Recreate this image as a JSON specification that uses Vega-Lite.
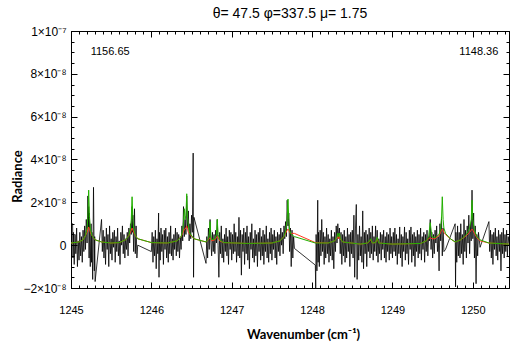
{
  "$schema": "https://vega.github.io/schema/vega-lite/v6.json",
  "width": 438,
  "height": 257,
  "autosize": "none",
  "padding": {"left": 71, "top": 31, "right": 1, "bottom": 56},
  "background": "white",
  "title": {"text": "θ= 47.5 φ=337.5 μ= 1.75", "font": "Liberation Sans", "fontSize": 14, "fontWeight": "normal", "color": "black", "anchor": "middle", "offset": 4},
  "config": {
    "view": {"stroke": "black", "strokeWidth": 1},
    "axis": {"grid": false, "domainColor": "black", "tickColor": "black", "labelColor": "black", "labelFont": "Liberation Sans", "labelFontSize": 11, "titleColor": "black", "domainWidth": 1, "tickWidth": 1}
  },
  "datasets": {
    "obs": [
      {"wn":1245.00,"rad":0.3e-8},{"wn":1245.005,"rad":1.0e-8},{"wn":1245.02,"rad":1.0e-8},{"wn":1245.025,"rad":-0.6e-8},{"wn":1245.03,"rad":0.6e-8},{"wn":1245.04,"rad":-0.9e-8},{"wn":1245.05,"rad":0.5e-8},{"wn":1245.06,"rad":-0.4e-8},{"wn":1245.07,"rad":0.8e-8},{"wn":1245.08,"rad":-1.0e-8},{"wn":1245.09,"rad":0.2e-8},
      {"wn":1245.10,"rad":-0.7e-8},{"wn":1245.11,"rad":0.6e-8},{"wn":1245.12,"rad":-0.5e-8},{"wn":1245.13,"rad":0.4e-8},{"wn":1245.14,"rad":-0.8e-8},{"wn":1245.15,"rad":0.7e-8},{"wn":1245.16,"rad":-0.3e-8},{"wn":1245.17,"rad":0.9e-8},{"wn":1245.18,"rad":-0.2e-8},{"wn":1245.19,"rad":1.2e-8},
      {"wn":1245.20,"rad":0.1e-8},{"wn":1245.21,"rad":2.3e-8},{"wn":1245.215,"rad":0.8e-8},{"wn":1245.22,"rad":1.8e-8},{"wn":1245.225,"rad":-0.6e-8},{"wn":1245.23,"rad":1.5e-8},{"wn":1245.24,"rad":-1.0e-8},{"wn":1245.25,"rad":1.0e-8},{"wn":1245.255,"rad":-0.8e-8},{"wn":1245.26,"rad":0.6e-8},{"wn":1245.27,"rad":-1.6e-8},{"wn":1245.28,"rad":2.7e-8},{"wn":1245.29,"rad":-1.2e-8},{"wn":1245.295,"rad":0.4e-8},{"wn":1245.30,"rad":-1.7e-8},
      {"wn":1245.38,"rad":1.2e-8},{"wn":1245.39,"rad":-0.3e-8},{"wn":1245.40,"rad":0.7e-8},{"wn":1245.41,"rad":-0.6e-8},{"wn":1245.42,"rad":0.4e-8},{"wn":1245.43,"rad":-0.9e-8},{"wn":1245.44,"rad":0.8e-8},{"wn":1245.45,"rad":-0.2e-8},{"wn":1245.46,"rad":0.5e-8},{"wn":1245.47,"rad":-1.0e-8},{"wn":1245.48,"rad":0.9e-8},{"wn":1245.49,"rad":-0.4e-8},
      {"wn":1245.50,"rad":0.3e-8},{"wn":1245.51,"rad":-0.7e-8},{"wn":1245.52,"rad":0.6e-8},{"wn":1245.53,"rad":-0.1e-8},{"wn":1245.54,"rad":0.7e-8},{"wn":1245.55,"rad":-0.8e-8},{"wn":1245.56,"rad":0.4e-8},{"wn":1245.57,"rad":-0.3e-8},{"wn":1245.58,"rad":0.8e-8},{"wn":1245.59,"rad":-0.5e-8},
      {"wn":1245.60,"rad":0.2e-8},{"wn":1245.61,"rad":-0.9e-8},{"wn":1245.62,"rad":0.6e-8},{"wn":1245.63,"rad":0.0},{"wn":1245.64,"rad":0.9e-8},{"wn":1245.65,"rad":-0.4e-8},{"wn":1245.66,"rad":0.5e-8},{"wn":1245.67,"rad":-0.6e-8},{"wn":1245.68,"rad":0.3e-8},{"wn":1245.69,"rad":-0.2e-8},
      {"wn":1245.70,"rad":0.6e-8},{"wn":1245.71,"rad":-0.5e-8},{"wn":1245.72,"rad":0.8e-8},{"wn":1245.73,"rad":0.1e-8},{"wn":1245.74,"rad":1.0e-8},{"wn":1245.75,"rad":0.5e-8},{"wn":1245.76,"rad":1.8e-8},{"wn":1245.765,"rad":0.6e-8},{"wn":1245.77,"rad":1.4e-8},{"wn":1245.78,"rad":-0.3e-8},{"wn":1245.79,"rad":1.7e-8},
      {"wn":1245.80,"rad":-0.4e-8},{"wn":1245.81,"rad":0.9e-8},{"wn":1245.82,"rad":-0.6e-8},{"wn":1245.83,"rad":0.0},
      {"wn":1246.00,"rad":-0.3e-8},{"wn":1246.01,"rad":0.6e-8},{"wn":1246.02,"rad":-0.8e-8},{"wn":1246.03,"rad":0.4e-8},{"wn":1246.04,"rad":-0.5e-8},{"wn":1246.05,"rad":0.7e-8},{"wn":1246.06,"rad":-1.1e-8},{"wn":1246.07,"rad":0.3e-8},{"wn":1246.08,"rad":-0.4e-8},{"wn":1246.09,"rad":1.5e-8},{"wn":1246.095,"rad":-1.5e-8},
      {"wn":1246.10,"rad":0.6e-8},{"wn":1246.11,"rad":-0.7e-8},{"wn":1246.12,"rad":0.8e-8},{"wn":1246.13,"rad":-0.3e-8},{"wn":1246.14,"rad":0.5e-8},{"wn":1246.15,"rad":-0.9e-8},{"wn":1246.16,"rad":0.7e-8},{"wn":1246.17,"rad":-0.2e-8},{"wn":1246.18,"rad":0.8e-8},{"wn":1246.19,"rad":-0.6e-8},
      {"wn":1246.20,"rad":0.4e-8},{"wn":1246.21,"rad":-0.8e-8},{"wn":1246.22,"rad":0.6e-8},{"wn":1246.23,"rad":-0.4e-8},{"wn":1246.24,"rad":0.9e-8},{"wn":1246.25,"rad":-0.5e-8},{"wn":1246.26,"rad":0.3e-8},{"wn":1246.27,"rad":-0.7e-8},{"wn":1246.28,"rad":0.5e-8},{"wn":1246.29,"rad":-0.2e-8},
      {"wn":1246.30,"rad":0.8e-8},{"wn":1246.31,"rad":-0.5e-8},{"wn":1246.32,"rad":0.6e-8},{"wn":1246.33,"rad":-0.3e-8},{"wn":1246.34,"rad":0.5e-8},{"wn":1246.35,"rad":-0.6e-8},{"wn":1246.36,"rad":0.4e-8},{"wn":1246.37,"rad":-0.2e-8},{"wn":1246.38,"rad":0.9e-8},{"wn":1246.39,"rad":0.2e-8},
      {"wn":1246.40,"rad":1.8e-8},{"wn":1246.41,"rad":0.4e-8},{"wn":1246.42,"rad":1.2e-8},{"wn":1246.43,"rad":0.5e-8},{"wn":1246.44,"rad":2.3e-8},{"wn":1246.45,"rad":0.8e-8},{"wn":1246.46,"rad":1.6e-8},{"wn":1246.47,"rad":0.2e-8},{"wn":1246.48,"rad":1.0e-8},{"wn":1246.49,"rad":0.3e-8},
      {"wn":1246.50,"rad":1.4e-8},{"wn":1246.51,"rad":0.6e-8},{"wn":1246.52,"rad":4.3e-8},{"wn":1246.525,"rad":-1.5e-8},{"wn":1246.53,"rad":1.3e-8},
      {"wn":1246.68,"rad":-0.85e-8},{"wn":1246.69,"rad":0.4e-8},{"wn":1246.70,"rad":-0.6e-8},{"wn":1246.71,"rad":0.8e-8},{"wn":1246.72,"rad":-0.2e-8},{"wn":1246.73,"rad":1.2e-8},{"wn":1246.74,"rad":0.2e-8},{"wn":1246.75,"rad":-0.5e-8},{"wn":1246.76,"rad":0.6e-8},{"wn":1246.77,"rad":-0.3e-8},{"wn":1246.78,"rad":0.5e-8},{"wn":1246.79,"rad":-0.4e-8},
      {"wn":1246.80,"rad":0.7e-8},{"wn":1246.81,"rad":0.1e-8},{"wn":1246.82,"rad":1.2e-8},{"wn":1246.83,"rad":0.0},{"wn":1246.84,"rad":-1.5e-8},{"wn":1246.85,"rad":0.6e-8},{"wn":1246.86,"rad":-0.4e-8},{"wn":1246.87,"rad":0.9e-8},{"wn":1246.88,"rad":-0.6e-8},{"wn":1246.89,"rad":0.3e-8},
      {"wn":1246.90,"rad":-0.8e-8},{"wn":1246.91,"rad":0.5e-8},{"wn":1246.92,"rad":-0.3e-8},{"wn":1246.93,"rad":0.8e-8},{"wn":1246.94,"rad":-0.5e-8},{"wn":1246.95,"rad":0.4e-8},{"wn":1246.96,"rad":-0.9e-8},{"wn":1246.97,"rad":0.7e-8},{"wn":1246.98,"rad":-0.2e-8},{"wn":1246.99,"rad":0.6e-8},
      {"wn":1247.00,"rad":-0.7e-8},{"wn":1247.01,"rad":0.5e-8},{"wn":1247.02,"rad":-0.4e-8},{"wn":1247.03,"rad":1.0e-8},{"wn":1247.04,"rad":-0.3e-8},{"wn":1247.05,"rad":0.6e-8},{"wn":1247.06,"rad":-0.8e-8},{"wn":1247.07,"rad":0.4e-8},{"wn":1247.08,"rad":-0.5e-8},{"wn":1247.09,"rad":1.3e-8},
      {"wn":1247.10,"rad":-0.6e-8},{"wn":1247.11,"rad":0.7e-8},{"wn":1247.12,"rad":-1.4e-8},{"wn":1247.13,"rad":0.5e-8},{"wn":1247.14,"rad":-0.3e-8},{"wn":1247.15,"rad":0.8e-8},{"wn":1247.16,"rad":-0.9e-8},{"wn":1247.17,"rad":0.6e-8},{"wn":1247.18,"rad":-0.4e-8},{"wn":1247.19,"rad":0.9e-8},
      {"wn":1247.20,"rad":-0.7e-8},{"wn":1247.21,"rad":0.4e-8},{"wn":1247.22,"rad":-1.1e-8},{"wn":1247.23,"rad":0.6e-8},{"wn":1247.24,"rad":-0.2e-8},{"wn":1247.25,"rad":1.0e-8},{"wn":1247.26,"rad":-0.6e-8},{"wn":1247.27,"rad":0.3e-8},{"wn":1247.28,"rad":-0.8e-8},{"wn":1247.29,"rad":0.7e-8},
      {"wn":1247.30,"rad":-0.5e-8},{"wn":1247.31,"rad":0.5e-8},{"wn":1247.32,"rad":-1.0e-8},{"wn":1247.33,"rad":0.6e-8},{"wn":1247.34,"rad":-0.3e-8},{"wn":1247.35,"rad":0.8e-8},{"wn":1247.36,"rad":-0.7e-8},{"wn":1247.37,"rad":0.4e-8},{"wn":1247.38,"rad":-0.5e-8},{"wn":1247.39,"rad":0.7e-8},
      {"wn":1247.40,"rad":-0.9e-8},{"wn":1247.41,"rad":0.5e-8},{"wn":1247.42,"rad":-0.3e-8},{"wn":1247.43,"rad":0.9e-8},{"wn":1247.44,"rad":-0.6e-8},{"wn":1247.45,"rad":0.3e-8},{"wn":1247.46,"rad":-0.8e-8},{"wn":1247.47,"rad":0.6e-8},{"wn":1247.48,"rad":-0.4e-8},{"wn":1247.49,"rad":0.8e-8},
      {"wn":1247.50,"rad":-0.7e-8},{"wn":1247.51,"rad":0.5e-8},{"wn":1247.52,"rad":-0.2e-8},{"wn":1247.53,"rad":0.7e-8},{"wn":1247.54,"rad":-0.6e-8},{"wn":1247.55,"rad":0.4e-8},{"wn":1247.56,"rad":-0.9e-8},{"wn":1247.57,"rad":0.6e-8},{"wn":1247.58,"rad":-0.3e-8},{"wn":1247.59,"rad":0.5e-8},
      {"wn":1247.60,"rad":-0.5e-8},{"wn":1247.61,"rad":0.8e-8},{"wn":1247.62,"rad":0.0},{"wn":1247.63,"rad":0.6e-8},{"wn":1247.64,"rad":-0.4e-8},{"wn":1247.65,"rad":0.9e-8},{"wn":1247.66,"rad":0.3e-8},{"wn":1247.67,"rad":1.1e-8},{"wn":1247.68,"rad":0.4e-8},{"wn":1247.69,"rad":2.1e-8},
      {"wn":1247.70,"rad":0.9e-8},{"wn":1247.71,"rad":1.5e-8},{"wn":1247.72,"rad":-0.3e-8},{"wn":1247.73,"rad":0.8e-8},{"wn":1247.74,"rad":-1.0e-8},{"wn":1247.75,"rad":0.7e-8},{"wn":1247.76,"rad":-0.6e-8},{"wn":1247.77,"rad":0.4e-8},{"wn":1247.78,"rad":-0.15e-8},
      {"wn":1248.04,"rad":-0.93e-8},{"wn":1248.045,"rad":-2.0e-8},{"wn":1248.05,"rad":0.5e-8},{"wn":1248.06,"rad":-1.2e-8},{"wn":1248.07,"rad":2.1e-8},{"wn":1248.075,"rad":-0.8e-8},{"wn":1248.08,"rad":0.6e-8},{"wn":1248.09,"rad":-1.0e-8},
      {"wn":1248.10,"rad":0.7e-8},{"wn":1248.11,"rad":-0.5e-8},{"wn":1248.12,"rad":1.2e-8},{"wn":1248.13,"rad":-0.3e-8},{"wn":1248.14,"rad":0.6e-8},{"wn":1248.15,"rad":-0.9e-8},{"wn":1248.16,"rad":0.4e-8},{"wn":1248.17,"rad":-0.6e-8},{"wn":1248.18,"rad":0.8e-8},{"wn":1248.19,"rad":-0.4e-8},
      {"wn":1248.20,"rad":0.5e-8},{"wn":1248.21,"rad":-0.8e-8},{"wn":1248.22,"rad":0.3e-8},{"wn":1248.23,"rad":-0.5e-8},{"wn":1248.24,"rad":0.7e-8},{"wn":1248.25,"rad":-0.7e-8},{"wn":1248.26,"rad":0.4e-8},{"wn":1248.27,"rad":-1.1e-8},{"wn":1248.28,"rad":0.6e-8},{"wn":1248.29,"rad":-0.3e-8},
      {"wn":1248.30,"rad":0.9e-8},{"wn":1248.31,"rad":0.1e-8},{"wn":1248.32,"rad":1.0e-8},{"wn":1248.33,"rad":0.3e-8},{"wn":1248.34,"rad":0.8e-8},{"wn":1248.35,"rad":-0.4e-8},{"wn":1248.36,"rad":0.6e-8},{"wn":1248.37,"rad":-0.9e-8},{"wn":1248.38,"rad":0.5e-8},{"wn":1248.39,"rad":-0.5e-8},
      {"wn":1248.40,"rad":0.7e-8},{"wn":1248.41,"rad":-0.8e-8},{"wn":1248.42,"rad":0.4e-8},{"wn":1248.43,"rad":-0.6e-8},{"wn":1248.44,"rad":0.8e-8},{"wn":1248.45,"rad":-0.3e-8},{"wn":1248.46,"rad":0.5e-8},{"wn":1248.47,"rad":-1.0e-8},{"wn":1248.48,"rad":0.6e-8},{"wn":1248.49,"rad":-0.4e-8},
      {"wn":1248.50,"rad":0.7e-8},{"wn":1248.51,"rad":-0.6e-8},{"wn":1248.52,"rad":1.4e-8},{"wn":1248.53,"rad":-1.5e-8},{"wn":1248.54,"rad":0.8e-8},{"wn":1248.55,"rad":1.9e-8},{"wn":1248.56,"rad":-1.6e-8},{"wn":1248.57,"rad":0.5e-8},{"wn":1248.58,"rad":-0.7e-8},{"wn":1248.59,"rad":0.9e-8},
      {"wn":1248.60,"rad":-0.5e-8},{"wn":1248.61,"rad":0.4e-8},{"wn":1248.62,"rad":-0.8e-8},{"wn":1248.63,"rad":1.6e-8},{"wn":1248.64,"rad":-1.1e-8},{"wn":1248.65,"rad":0.6e-8},{"wn":1248.66,"rad":-0.4e-8},{"wn":1248.67,"rad":0.7e-8},{"wn":1248.68,"rad":-1.0e-8},{"wn":1248.69,"rad":0.5e-8},
      {"wn":1248.70,"rad":-0.3e-8},{"wn":1248.71,"rad":0.8e-8},{"wn":1248.72,"rad":-0.6e-8},{"wn":1248.73,"rad":0.6e-8},{"wn":1248.74,"rad":-0.4e-8},{"wn":1248.75,"rad":0.9e-8},{"wn":1248.76,"rad":-0.7e-8},{"wn":1248.77,"rad":0.4e-8},{"wn":1248.78,"rad":-0.3e-8},{"wn":1248.79,"rad":0.9e-8},
      {"wn":1248.80,"rad":-0.5e-8},{"wn":1248.81,"rad":0.7e-8},{"wn":1248.82,"rad":-0.8e-8},{"wn":1248.83,"rad":0.3e-8},{"wn":1248.84,"rad":-0.4e-8},{"wn":1248.85,"rad":0.6e-8},{"wn":1248.86,"rad":-0.7e-8},{"wn":1248.87,"rad":0.5e-8},{"wn":1248.88,"rad":-0.2e-8},{"wn":1248.89,"rad":0.7e-8},
      {"wn":1248.90,"rad":-0.6e-8},{"wn":1248.91,"rad":0.4e-8},{"wn":1248.92,"rad":-0.8e-8},{"wn":1248.93,"rad":0.6e-8},{"wn":1248.94,"rad":-0.3e-8},{"wn":1248.95,"rad":0.5e-8},{"wn":1248.96,"rad":-0.7e-8},{"wn":1248.97,"rad":0.8e-8},{"wn":1248.98,"rad":-0.4e-8},{"wn":1248.99,"rad":0.4e-8},
      {"wn":1249.00,"rad":-0.6e-8},{"wn":1249.01,"rad":0.6e-8},{"wn":1249.02,"rad":-0.3e-8},{"wn":1249.03,"rad":0.8e-8},{"wn":1249.04,"rad":-0.5e-8},{"wn":1249.05,"rad":0.5e-8},{"wn":1249.06,"rad":-0.9e-8},{"wn":1249.07,"rad":0.3e-8},{"wn":1249.08,"rad":-0.4e-8},{"wn":1249.09,"rad":0.85e-8},
      {"wn":1249.10,"rad":-0.6e-8},{"wn":1249.11,"rad":0.5e-8},{"wn":1249.12,"rad":-1.0e-8},{"wn":1249.13,"rad":0.4e-8},{"wn":1249.14,"rad":-0.3e-8},{"wn":1249.15,"rad":0.85e-8},{"wn":1249.16,"rad":-0.7e-8},{"wn":1249.17,"rad":0.6e-8},{"wn":1249.18,"rad":-0.4e-8},{"wn":1249.19,"rad":0.3e-8},
      {"wn":1249.20,"rad":-0.9e-8},{"wn":1249.21,"rad":0.7e-8},{"wn":1249.22,"rad":-0.2e-8},{"wn":1249.23,"rad":0.85e-8},{"wn":1249.24,"rad":-0.8e-8},{"wn":1249.25,"rad":0.5e-8},{"wn":1249.26,"rad":-0.5e-8},{"wn":1249.27,"rad":0.6e-8},{"wn":1249.28,"rad":-1.0e-8},{"wn":1249.29,"rad":0.4e-8},
      {"wn":1249.30,"rad":-0.3e-8},{"wn":1249.31,"rad":0.7e-8},{"wn":1249.32,"rad":-0.6e-8},{"wn":1249.33,"rad":0.5e-8},{"wn":1249.34,"rad":-0.4e-8},{"wn":1249.35,"rad":0.8e-8},{"wn":1249.36,"rad":-0.7e-8},{"wn":1249.37,"rad":0.4e-8},{"wn":1249.38,"rad":-0.2e-8},{"wn":1249.39,"rad":0.6e-8},
      {"wn":1249.40,"rad":-0.8e-8},{"wn":1249.41,"rad":0.5e-8},{"wn":1249.42,"rad":-0.3e-8},{"wn":1249.43,"rad":0.7e-8},{"wn":1249.44,"rad":-0.5e-8},{"wn":1249.45,"rad":0.4e-8},{"wn":1249.46,"rad":0.2e-8},{"wn":1249.47,"rad":1.2e-8},{"wn":1249.48,"rad":-0.2e-8},{"wn":1249.49,"rad":0.6e-8},
      {"wn":1249.50,"rad":-0.6e-8},{"wn":1249.51,"rad":0.5e-8},{"wn":1249.52,"rad":-0.4e-8},{"wn":1249.53,"rad":0.7e-8},{"wn":1249.54,"rad":0.1e-8},{"wn":1249.55,"rad":0.9e-8},{"wn":1249.56,"rad":-0.3e-8},{"wn":1249.57,"rad":0.4e-8},{"wn":1249.58,"rad":-1.2e-8},{"wn":1249.59,"rad":1.0e-8},
      {"wn":1249.60,"rad":0.2e-8},{"wn":1249.61,"rad":1.3e-8},{"wn":1249.62,"rad":-0.5e-8},{"wn":1249.63,"rad":0.8e-8},{"wn":1249.64,"rad":-0.3e-8},{"wn":1249.66,"rad":-0.2e-8},
      {"wn":1249.78,"rad":1.0e-8},{"wn":1249.785,"rad":-1.95e-8},{"wn":1249.79,"rad":0.6e-8},
      {"wn":1249.80,"rad":-0.8e-8},{"wn":1249.81,"rad":0.9e-8},{"wn":1249.82,"rad":-0.5e-8},{"wn":1249.83,"rad":0.6e-8},{"wn":1249.84,"rad":-0.6e-8},{"wn":1249.85,"rad":1.0e-8},{"wn":1249.86,"rad":-0.4e-8},{"wn":1249.87,"rad":0.5e-8},{"wn":1249.88,"rad":-0.9e-8},{"wn":1249.89,"rad":1.2e-8},
      {"wn":1249.90,"rad":-0.3e-8},{"wn":1249.91,"rad":0.7e-8},{"wn":1249.92,"rad":-0.6e-8},{"wn":1249.93,"rad":0.9e-8},{"wn":1249.94,"rad":0.1e-8},{"wn":1249.95,"rad":1.4e-8},{"wn":1249.96,"rad":-0.4e-8},{"wn":1249.97,"rad":1.0e-8},{"wn":1249.98,"rad":0.2e-8},{"wn":1249.99,"rad":2.57e-8},
      {"wn":1250.00,"rad":0.3e-8},{"wn":1250.01,"rad":1.5e-8},{"wn":1250.02,"rad":-0.6e-8},{"wn":1250.03,"rad":0.9e-8},{"wn":1250.04,"rad":-1.8e-8},{"wn":1250.05,"rad":0.5e-8},{"wn":1250.06,"rad":-0.5e-8},{"wn":1250.07,"rad":0.6e-8},{"wn":1250.09,"rad":-0.1e-8},
      {"wn":1250.20,"rad":1.1e-8},{"wn":1250.21,"rad":-0.3e-8},{"wn":1250.22,"rad":0.7e-8},{"wn":1250.23,"rad":-0.6e-8},{"wn":1250.24,"rad":0.5e-8},{"wn":1250.25,"rad":-0.9e-8},{"wn":1250.26,"rad":0.6e-8},{"wn":1250.27,"rad":-0.2e-8},{"wn":1250.28,"rad":0.8e-8},{"wn":1250.29,"rad":-0.5e-8},
      {"wn":1250.30,"rad":0.4e-8},{"wn":1250.31,"rad":-0.7e-8},{"wn":1250.32,"rad":0.7e-8},{"wn":1250.33,"rad":-0.3e-8},{"wn":1250.34,"rad":0.5e-8},{"wn":1250.35,"rad":-1.2e-8},{"wn":1250.36,"rad":0.6e-8},{"wn":1250.37,"rad":-0.4e-8},{"wn":1250.38,"rad":0.8e-8},{"wn":1250.39,"rad":-0.6e-8},
      {"wn":1250.40,"rad":0.5e-8},{"wn":1250.41,"rad":-0.3e-8},{"wn":1250.42,"rad":0.7e-8},{"wn":1250.43,"rad":-0.5e-8},{"wn":1250.44,"rad":0.4e-8},{"wn":1250.45,"rad":0.1e-8}
    ],
    "model": [
      {"wn":1245.00,"green":0.1e-8,"red":0.1e-8},{"wn":1245.10,"green":0.15e-8,"red":0.15e-8},{"wn":1245.15,"green":0.25e-8,"red":0.25e-8},{"wn":1245.18,"green":0.45e-8,"red":0.45e-8},{"wn":1245.20,"green":0.8e-8,"red":0.6e-8},{"wn":1245.21,"green":1.3e-8,"red":0.75e-8},{"wn":1245.22,"green":2.57e-8,"red":0.85e-8},{"wn":1245.23,"green":1.3e-8,"red":0.75e-8},{"wn":1245.24,"green":0.8e-8,"red":0.6e-8},{"wn":1245.26,"green":0.45e-8,"red":0.45e-8},{"wn":1245.30,"green":0.25e-8,"red":0.25e-8},
      {"wn":1245.38,"green":0.15e-8,"red":0.15e-8},{"wn":1245.50,"green":0.1e-8,"red":0.1e-8},{"wn":1245.60,"green":0.12e-8,"red":0.12e-8},{"wn":1245.68,"green":0.25e-8,"red":0.25e-8},{"wn":1245.72,"green":0.45e-8,"red":0.45e-8},{"wn":1245.74,"green":0.8e-8,"red":0.6e-8},{"wn":1245.75,"green":1.2e-8,"red":0.7e-8},{"wn":1245.76,"green":2.26e-8,"red":0.8e-8},{"wn":1245.77,"green":1.2e-8,"red":0.7e-8},{"wn":1245.78,"green":0.8e-8,"red":0.6e-8},{"wn":1245.80,"green":0.45e-8,"red":0.45e-8},{"wn":1245.83,"green":0.3e-8,"red":0.3e-8},
      {"wn":1246.00,"green":0.12e-8,"red":0.12e-8},{"wn":1246.20,"green":0.1e-8,"red":0.1e-8},{"wn":1246.32,"green":0.2e-8,"red":0.2e-8},{"wn":1246.37,"green":0.4e-8,"red":0.4e-8},{"wn":1246.39,"green":0.7e-8,"red":0.55e-8},{"wn":1246.40,"green":1.1e-8,"red":0.65e-8},{"wn":1246.41,"green":1.7e-8,"red":0.75e-8},{"wn":1246.42,"green":1.2e-8,"red":0.75e-8},{"wn":1246.43,"green":1.4e-8,"red":0.8e-8},{"wn":1246.44,"green":2.4e-8,"red":0.9e-8},{"wn":1246.45,"green":1.3e-8,"red":0.75e-8},{"wn":1246.46,"green":0.9e-8,"red":0.6e-8},{"wn":1246.48,"green":0.55e-8,"red":0.5e-8},{"wn":1246.53,"green":0.3e-8,"red":0.3e-8},
      {"wn":1246.68,"green":0.15e-8,"red":0.15e-8},{"wn":1246.71,"green":0.3e-8,"red":0.25e-8},{"wn":1246.72,"green":0.5e-8,"red":0.3e-8},{"wn":1246.73,"green":1.1e-8,"red":0.35e-8},{"wn":1246.74,"green":0.5e-8,"red":0.3e-8},{"wn":1246.75,"green":0.25e-8,"red":0.2e-8},{"wn":1246.79,"green":0.3e-8,"red":0.25e-8},{"wn":1246.81,"green":0.5e-8,"red":0.35e-8},{"wn":1246.82,"green":1.2e-8,"red":0.4e-8},{"wn":1246.83,"green":0.5e-8,"red":0.35e-8},{"wn":1246.85,"green":0.25e-8,"red":0.2e-8},{"wn":1246.90,"green":0.12e-8,"red":0.12e-8},
      {"wn":1247.20,"green":0.08e-8,"red":0.08e-8},{"wn":1247.50,"green":0.1e-8,"red":0.1e-8},{"wn":1247.60,"green":0.2e-8,"red":0.2e-8},{"wn":1247.65,"green":0.4e-8,"red":0.4e-8},{"wn":1247.67,"green":0.65e-8,"red":0.55e-8},{"wn":1247.69,"green":1.2e-8,"red":0.7e-8},{"wn":1247.70,"green":2.15e-8,"red":0.75e-8},{"wn":1247.71,"green":1.2e-8,"red":0.7e-8},{"wn":1247.72,"green":0.7e-8,"red":0.6e-8},{"wn":1247.74,"green":0.5e-8,"red":0.55e-8},{"wn":1247.78,"green":0.4e-8,"red":0.55e-8},
      {"wn":1248.04,"green":0.1e-8,"red":0.12e-8},{"wn":1248.20,"green":0.1e-8,"red":0.1e-8},{"wn":1248.28,"green":0.2e-8,"red":0.2e-8},{"wn":1248.31,"green":0.4e-8,"red":0.35e-8},{"wn":1248.32,"green":0.56e-8,"red":0.4e-8},{"wn":1248.33,"green":0.4e-8,"red":0.3e-8},{"wn":1248.34,"green":0.56e-8,"red":0.45e-8},{"wn":1248.35,"green":0.35e-8,"red":0.3e-8},{"wn":1248.38,"green":0.15e-8,"red":0.15e-8},
      {"wn":1248.60,"green":0.05e-8,"red":0.05e-8},{"wn":1248.69,"green":0.1e-8,"red":0.1e-8},{"wn":1248.73,"green":0.3e-8,"red":0.25e-8},{"wn":1248.75,"green":0.1e-8,"red":0.1e-8},{"wn":1248.79,"green":0.12e-8,"red":0.12e-8},{"wn":1248.81,"green":0.37e-8,"red":0.3e-8},{"wn":1248.83,"green":0.1e-8,"red":0.1e-8},
      {"wn":1249.00,"green":0.05e-8,"red":0.05e-8},{"wn":1249.35,"green":0.08e-8,"red":0.08e-8},{"wn":1249.42,"green":0.2e-8,"red":0.2e-8},{"wn":1249.45,"green":0.4e-8,"red":0.3e-8},{"wn":1249.47,"green":1.05e-8,"red":0.35e-8},{"wn":1249.49,"green":0.4e-8,"red":0.3e-8},{"wn":1249.53,"green":0.35e-8,"red":0.3e-8},{"wn":1249.56,"green":0.45e-8,"red":0.4e-8},{"wn":1249.58,"green":0.5e-8,"red":0.45e-8},{"wn":1249.60,"green":0.8e-8,"red":0.6e-8},{"wn":1249.61,"green":1.2e-8,"red":0.7e-8},{"wn":1249.62,"green":2.26e-8,"red":0.75e-8},{"wn":1249.63,"green":1.2e-8,"red":0.7e-8},{"wn":1249.64,"green":0.8e-8,"red":0.6e-8},{"wn":1249.66,"green":0.55e-8,"red":0.5e-8},
      {"wn":1249.72,"green":0.3e-8,"red":0.3e-8},{"wn":1249.78,"green":0.15e-8,"red":0.15e-8},{"wn":1249.85,"green":0.25e-8,"red":0.25e-8},{"wn":1249.92,"green":0.5e-8,"red":0.45e-8},{"wn":1249.96,"green":0.8e-8,"red":0.6e-8},{"wn":1249.98,"green":1.2e-8,"red":0.7e-8},{"wn":1249.99,"green":2.1e-8,"red":0.75e-8},{"wn":1250.00,"green":1.2e-8,"red":0.7e-8},{"wn":1250.02,"green":0.7e-8,"red":0.55e-8},{"wn":1250.05,"green":0.4e-8,"red":0.35e-8},{"wn":1250.09,"green":0.25e-8,"red":0.2e-8},
      {"wn":1250.20,"green":0.1e-8,"red":0.1e-8},{"wn":1250.45,"green":0.05e-8,"red":0.05e-8}
    ]
  },
  "resolve": {"axis": {"x": "independent", "y": "independent"}},
  "layer": [
    {
      "data": {"name": "obs"},
      "mark": {"type": "line", "color": "black", "strokeWidth": 0.8, "clip": true},
      "encoding": {
        "x": {"field": "wn", "type": "quantitative", "scale": {"domain": [1245, 1250.45], "nice": false, "zero": false},
          "axis": {"orient": "bottom", "values": [1245, 1246, 1247, 1248, 1249, 1250], "format": "d", "tickSize": -6, "labelPadding": 22, "title": "Wavenumber (cm⁻¹)", "titleFont": "Lato", "titleFontWeight": "bold", "titleFontSize": 13, "titleX": 232, "titleY": 50, "titleAlign": "center", "titleBaseline": "alphabetic", "labelFlush": false}},
        "y": {"field": "rad", "type": "quantitative", "scale": {"domain": [-2e-8, 1e-7], "nice": false, "zero": false},
          "axis": {"orient": "left", "values": [-2e-8, 0, 2e-8, 4e-8, 6e-8, 8e-8, 1e-7], "tickSize": -6, "labelPadding": 11, "labelFontSize": 12, "labelExpr": "datum.value == 0 ? '0' : (datum.value > 9e-8 ? '1×10⁻⁷' : format(datum.value * 1e8, 'd') + '×10⁻⁸')", "title": "Radiance", "titleFont": "Lato", "titleFontWeight": "bold", "titleFontSize": 13, "titleX": -50, "titleY": 145, "titleAngle": -90, "titleAlign": "center", "titleBaseline": "alphabetic", "labelFlush": false}}
      }
    },
    {
      "data": {"name": "model"},
      "mark": {"type": "line", "color": "#ff3b1f", "strokeWidth": 1, "clip": true},
      "encoding": {
        "x": {"field": "wn", "type": "quantitative", "scale": {"domain": [1245, 1250.45], "nice": false, "zero": false},
          "axis": {"orient": "bottom", "values": [1245.1,1245.2,1245.3,1245.4,1245.5,1245.6,1245.7,1245.8,1245.9,1246.1,1246.2,1246.3,1246.4,1246.5,1246.6,1246.7,1246.8,1246.9,1247.1,1247.2,1247.3,1247.4,1247.5,1247.6,1247.7,1247.8,1247.9,1248.1,1248.2,1248.3,1248.4,1248.5,1248.6,1248.7,1248.8,1248.9,1249.1,1249.2,1249.3,1249.4,1249.5,1249.6,1249.7,1249.8,1249.9,1250.1,1250.2,1250.3,1250.4], "labels": false, "tickSize": -3, "domain": false, "title": null}},
        "y": {"field": "red", "type": "quantitative", "scale": {"domain": [-2e-8, 1e-7], "nice": false, "zero": false},
          "axis": {"orient": "left", "values": [-1.5e-8,-1e-8,-0.5e-8,0.5e-8,1e-8,1.5e-8,2.5e-8,3e-8,3.5e-8,4.5e-8,5e-8,5.5e-8,6.5e-8,7e-8,7.5e-8,8.5e-8,9e-8,9.5e-8], "labels": false, "tickSize": -3, "domain": false, "title": null}}
      }
    },
    {
      "data": {"name": "model"},
      "mark": {"type": "line", "color": "#22b000", "strokeWidth": 1, "clip": true},
      "encoding": {
        "x": {"field": "wn", "type": "quantitative", "scale": {"domain": [1245, 1250.45], "nice": false, "zero": false},
          "axis": {"orient": "top", "values": [1245, 1246, 1247, 1248, 1249, 1250], "labels": false, "tickSize": -6, "title": null}},
        "y": {"field": "green", "type": "quantitative", "scale": {"domain": [-2e-8, 1e-7], "nice": false, "zero": false},
          "axis": {"orient": "right", "values": [-2e-8, 0, 2e-8, 4e-8, 6e-8, 8e-8, 1e-7], "labels": false, "tickSize": -6, "title": null}}
      }
    },
    {
      "data": {"values": [{"wn": 1245.245, "rad": 9.0e-8, "label": "1156.65"}]},
      "mark": {"type": "text", "align": "left", "baseline": "middle", "font": "Liberation Sans", "fontSize": 11, "color": "black"},
      "encoding": {
        "x": {"field": "wn", "type": "quantitative", "scale": {"domain": [1245, 1250.45], "nice": false, "zero": false},
          "axis": {"orient": "top", "values": [1245.1,1245.2,1245.3,1245.4,1245.5,1245.6,1245.7,1245.8,1245.9,1246.1,1246.2,1246.3,1246.4,1246.5,1246.6,1246.7,1246.8,1246.9,1247.1,1247.2,1247.3,1247.4,1247.5,1247.6,1247.7,1247.8,1247.9,1248.1,1248.2,1248.3,1248.4,1248.5,1248.6,1248.7,1248.8,1248.9,1249.1,1249.2,1249.3,1249.4,1249.5,1249.6,1249.7,1249.8,1249.9,1250.1,1250.2,1250.3,1250.4], "labels": false, "tickSize": -3, "domain": false, "title": null}},
        "y": {"field": "rad", "type": "quantitative", "scale": {"domain": [-2e-8, 1e-7], "nice": false, "zero": false},
          "axis": {"orient": "right", "values": [-1.5e-8,-1e-8,-0.5e-8,0.5e-8,1e-8,1.5e-8,2.5e-8,3e-8,3.5e-8,4.5e-8,5e-8,5.5e-8,6.5e-8,7e-8,7.5e-8,8.5e-8,9e-8,9.5e-8], "labels": false, "tickSize": -3, "domain": false, "title": null}},
        "text": {"field": "label"}
      }
    },
    {
      "data": {"values": [{"wn": 1250.317, "rad": 9.0e-8, "label": "1148.36"}]},
      "mark": {"type": "text", "align": "right", "baseline": "middle", "font": "Liberation Sans", "fontSize": 11, "color": "black"},
      "encoding": {
        "x": {"field": "wn", "type": "quantitative", "scale": {"domain": [1245, 1250.45], "nice": false, "zero": false}, "axis": null},
        "y": {"field": "rad", "type": "quantitative", "scale": {"domain": [-2e-8, 1e-7], "nice": false, "zero": false}, "axis": null},
        "text": {"field": "label"}
      }
    }
  ]
}
